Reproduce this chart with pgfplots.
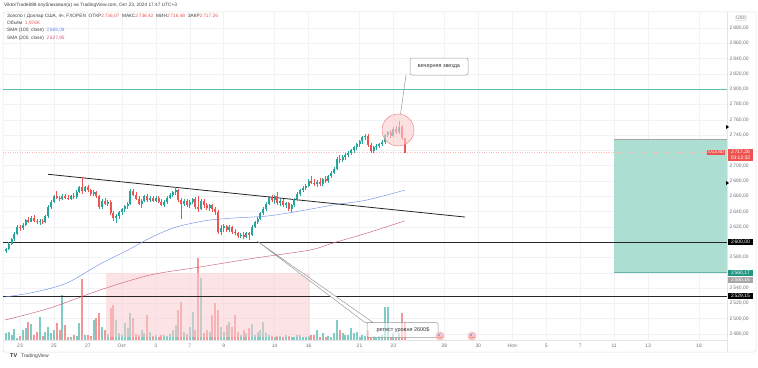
\documentclass[border=0pt]{standalone}
\usepackage{pgfplots}
\pgfplotsset{compat=1.18}
\usepackage{pgfplotstable}
\usepackage{fontspec}
\setmainfont{Liberation Sans}
\definecolor{cup}{RGB}{38,166,154}
\definecolor{cdn}{RGB}{239,83,80}
\definecolor{vup}{RGB}{128,203,195}
\definecolor{vdn}{RGB}{245,150,150}
\definecolor{smaA}{RGB}{110,145,232}
\definecolor{smaB}{RGB}{205,95,120}
\definecolor{gridc}{RGB}{240,242,246}
\definecolor{tgray}{RGB}{110,113,124}
\definecolor{boxg}{RGB}{172,222,210}
\definecolor{boxp}{RGB}{250,205,209}
\definecolor{tealL}{RGB}{95,190,172}
\definecolor{tealD}{RGB}{34,150,130}

\pgfplotstableread{
n o h l c v
-5 2588 2593 2586 2591 7
-4 2591 2600 2590 2598 8
-3 2598 2606 2596 2604 5
-2 2604 2613 2602 2611 11
-1 2611 2622 2609 2620 2
0 2620 2623 2615 2618 4
1 2618 2625 2616 2623 10
2 2623 2631 2621 2629 12
3 2629 2633 2625 2627 18
4 2627 2634 2626 2632 16
5 2632 2635 2626 2628 5
6 2628 2631 2624 2626 8
7 2626 2630 2623 2628 23
8 2628 2630 2624 2626 4
9 2626 2636 2625 2634 8
10 2634 2648 2632 2646 13
11 2646 2655 2644 2653 7
12 2653 2662 2651 2660 10
13 2660 2667 2656 2658 17
14 2658 2661 2654 2657 10
15 2657 2663 2655 2661 45
16 2661 2663 2656 2658 15
17 2658 2662 2655 2657 3
18 2657 2662 2655 2660 3
19 2660 2664 2657 2659 5
20 2659 2668 2657 2666 4
21 2666 2673 2664 2672 17
22 2672 2685 2663 2667 61
23 2667 2674 2665 2672 5
24 2672 2675 2666 2668 5
25 2668 2670 2661 2663 4
26 2663 2668 2660 2665 20
27 2665 2667 2658 2660 22
28 2660 2662 2643 2646 27
29 2646 2656 2644 2654 13
30 2654 2658 2648 2650 10
31 2650 2655 2647 2653 6
32 2653 2655 2636 2638 32
33 2638 2641 2628 2632 35
34 2632 2637 2625 2634 20
35 2634 2641 2631 2639 7
36 2639 2645 2636 2643 5
37 2643 2649 2640 2647 17
38 2647 2652 2643 2650 12
39 2650 2669 2648 2667 27
40 2667 2670 2660 2662 22
41 2662 2665 2655 2657 6
42 2657 2660 2648 2650 5
43 2650 2656 2645 2654 10
44 2654 2662 2652 2660 7
45 2660 2663 2653 2655 25
46 2655 2660 2653 2658 8
47 2658 2661 2652 2654 4
48 2654 2660 2652 2658 5
49 2658 2661 2651 2653 3
50 2653 2656 2647 2649 5
51 2649 2655 2646 2652 5
52 2652 2660 2650 2658 4
53 2658 2664 2656 2662 6
54 2662 2667 2659 2665 10
55 2665 2672 2662 2668 15
56 2668 2670 2652 2655 30
57 2655 2658 2631 2650 38
58 2650 2656 2647 2654 8
59 2654 2657 2646 2648 6
60 2648 2655 2645 2653 13
61 2653 2658 2650 2656 28
62 2656 2659 2644 2646 10
63 2646 2660 2640 2644 82
64 2644 2657 2642 2654 62
65 2654 2656 2645 2648 7
66 2648 2651 2642 2645 10
67 2645 2650 2641 2648 8
68 2648 2650 2640 2643 25
69 2643 2646 2636 2640 37
70 2640 2642 2611 2614 30
71 2614 2622 2610 2619 13
72 2619 2624 2614 2621 8
73 2621 2623 2613 2616 15
74 2616 2622 2614 2620 18
75 2620 2621 2611 2613 13
76 2613 2617 2609 2612 25
77 2612 2614 2606 2608 8
78 2608 2612 2605 2610 5
79 2610 2613 2604 2607 10
80 2607 2614 2605 2612 7
81 2612 2614 2603 2610 12
82 2610 2622 2608 2620 16
83 2620 2628 2618 2626 5
84 2626 2633 2624 2631 8
85 2631 2640 2629 2638 10
86 2638 2646 2635 2644 18
87 2644 2652 2641 2650 7
88 2650 2661 2648 2659 5
89 2659 2662 2652 2655 4
90 2655 2662 2650 2660 3
91 2660 2666 2648 2651 4
92 2651 2656 2647 2654 4
93 2654 2657 2646 2648 3
94 2648 2653 2645 2651 5
95 2651 2653 2641 2644 4
96 2644 2650 2639 2648 3
97 2648 2658 2646 2656 3
98 2656 2665 2654 2663 5
99 2663 2670 2660 2668 5
100 2668 2673 2665 2671 3
101 2671 2676 2668 2674 3
102 2674 2682 2672 2680 4
103 2680 2686 2676 2678 5
104 2678 2682 2673 2676 5
105 2676 2681 2672 2679 10
106 2679 2684 2674 2676 3
107 2676 2684 2673 2682 7
108 2682 2687 2678 2680 3
109 2680 2688 2678 2686 4
110 2686 2693 2684 2691 3
111 2691 2698 2689 2696 7
112 2696 2712 2694 2709 20
113 2709 2714 2704 2707 10
114 2707 2714 2705 2712 7
115 2712 2716 2708 2714 5
116 2714 2719 2711 2717 5
117 2717 2722 2714 2720 12
118 2720 2726 2717 2724 7
119 2724 2730 2721 2728 8
120 2728 2734 2725 2732 3
121 2732 2739 2729 2737 5
122 2737 2741 2733 2739 4
123 2739 2741 2724 2727 10
124 2727 2730 2716 2719 3
125 2719 2726 2717 2724 4
126 2724 2728 2720 2726 3
127 2726 2730 2723 2728 4
128 2728 2733 2726 2731 5
129 2731 2742 2729 2740 33
130 2740 2746 2737 2744 33
131 2744 2747 2736 2739 3
132 2739 2750 2737 2748 7
133 2748 2752 2741 2744 3
134 2744 2758 2742 2750 7
135 2750 2753 2733 2736.07 27
136 2736.07 2736.42 2716.48 2717.26 18
}\candles

\pgfplotstableread{
n p
-5.30 2528.4
5.30 2534.9
16.61 2546.7
28.28 2571.5
38.17 2589.8
45.95 2605.5
54.08 2618.6
61.15 2625.1
67.16 2629.0
75.29 2631.6
87.30 2634.2
98.97 2640.8
110.63 2648.6
122.65 2655.2
136 2668.08
}\smaone

\pgfplotstableread{
n p
-5.30 2498.3
10.60 2514.0
28.28 2537.5
45.95 2557.1
63.62 2567.6
83.06 2579.3
102.5 2589.8
110.63 2599.0
122.65 2612.0
136 2627.95
}\smatwo

\begin{document}
\begin{tikzpicture}[x=1bp,y=1bp]
\useasboundingbox (0,0) rectangle (758,367);
% panel border
\begin{scope}[shift={(0,367)}, y=-1bp]
\draw[gray!25, line width=0.5bp, rounded corners=2bp] (3,12) rectangle (756,352);
\end{scope}
\begin{axis}[at={(3bp,27bp)}, anchor=south west, scale only axis,
  width=724bp, height=327bp,
  xmin=-6.01, xmax=249.9, ymin=2472.2, ymax=2899.6,
  axis line style={draw=none}, major tick length=0pt,
  grid=major, major grid style={draw=gridc, line width=0.5bp},
  xtick={0,12,24,36,48,60,72,90,102,120,132,150,162,174,186,198,210,222,240},
  xticklabels={23,25,27,Окт,3,7,9,14,16,21,23,28,30,Ноя,5,7,11,13,18},
  xticklabel style={font=\fontsize{5}{6}\selectfont, text=tgray, inner sep=0pt, yshift=-3.5bp},
  ytick={2480,2500,...,2880},
  yticklabel pos=right,
  yticklabels={{2\,480,00},{2\,500,00},{2\,520,00},{2\,540,00},{},{2\,580,00},{},{2\,620,00},{2\,640,00},{2\,660,00},{2\,680,00},{2\,700,00},{},{2\,740,00},{2\,760,00},{2\,780,00},{2\,800,00},{2\,820,00},{2\,840,00},{2\,860,00},{2\,880,00}},
  yticklabel style={font=\fontsize{5}{6}\selectfont, text=tgray, inner sep=0pt, anchor=west, xshift=2.5bp},
  clip=true,
]
% volume (up)
\addplot[draw=none, mark=none, forget plot,
  restrict expr to domain={\thisrow{c}-\thisrow{o}}{0:1000},
  error bars/.cd, y dir=plus, y explicit, error mark=none,
  error bar style={draw=vup, line width=2bp, solid}]
  table[x=n, y expr=2472.2, y error plus expr=\thisrow{v}/0.765] {\candles};
% volume (down)
\addplot[draw=none, mark=none, forget plot,
  restrict expr to domain={\thisrow{o}-\thisrow{c}}{0.001:1000},
  error bars/.cd, y dir=plus, y explicit, error mark=none,
  error bar style={draw=vdn, line width=2bp, solid}]
  table[x=n, y expr=2472.2, y error plus expr=\thisrow{v}/0.765] {\candles};
% pink rectangle
\fill[boxp, fill opacity=0.55] (axis cs:30.4,2476) rectangle (axis cs:102.5,2559.6);
% green rectangle
\fill[boxg] (axis cs:210,2560.17) rectangle (axis cs:249.9,2735);
\draw[gray!70, line width=0.6bp] (axis cs:210,2735) -- (axis cs:249.9,2735);
\draw[tealD!70, line width=0.6bp] (axis cs:210,2560.17) -- (axis cs:249.9,2560.17);
% horizontal levels
\draw[tealL, line width=0.7bp] (axis cs:-6.01,2800) -- (axis cs:249.9,2800);
\draw[black!85, line width=0.8bp] (axis cs:-6.01,2600) -- (axis cs:249.9,2600);
\draw[black!85, line width=0.8bp] (axis cs:-6.01,2529.15) -- (axis cs:249.9,2529.15);
\draw[cdn!40, line width=0.4bp, dotted] (axis cs:-6.01,2717.26) -- (axis cs:249.9,2717.26);
% SMAs
\addplot[smaA, line width=0.45bp, smooth, mark=none] table[x=n, y=p] {\smaone};
\addplot[smaB, line width=0.45bp, smooth, mark=none] table[x=n, y=p] {\smatwo};
% trend line
\draw[black!85, line width=0.8bp] (axis cs:9.90,2688.8) -- (axis cs:157.3,2632.9);
% candles: wicks
\addplot[draw=none, mark=none, forget plot,
  restrict expr to domain={\thisrow{c}-\thisrow{o}}{0:1000},
  error bars/.cd, y dir=plus, y explicit, error mark=none,
  error bar style={draw=cup, line width=0.6bp, solid}]
  table[x=n, y=l, y error plus expr=\thisrow{h}-\thisrow{l}] {\candles};
\addplot[draw=none, mark=none, forget plot,
  restrict expr to domain={\thisrow{o}-\thisrow{c}}{0.001:1000},
  error bars/.cd, y dir=plus, y explicit, error mark=none,
  error bar style={draw=cdn, line width=0.6bp, solid}]
  table[x=n, y=l, y error plus expr=\thisrow{h}-\thisrow{l}] {\candles};
% candles: bodies
\addplot[draw=none, mark=none, forget plot,
  restrict expr to domain={\thisrow{c}-\thisrow{o}}{0:1000},
  error bars/.cd, y dir=plus, y explicit, error mark=none,
  error bar style={draw=cup, line width=2bp, solid}]
  table[x=n, y=o, y error plus expr=\thisrow{c}-\thisrow{o}] {\candles};
\addplot[draw=none, mark=none, forget plot,
  restrict expr to domain={\thisrow{o}-\thisrow{c}}{0.001:1000},
  error bars/.cd, y dir=plus, y explicit, error mark=none,
  error bar style={draw=cdn, line width=2bp, solid}]
  table[x=n, y=c, y error plus expr=\thisrow{o}-\thisrow{c}] {\candles};
\end{axis}

\begin{scope}[shift={(0,367)}, y=-1bp]
% separators
\draw[gray!20, line width=0.5bp] (3,340) -- (727,340);
\draw[gray!20, line width=0.5bp] (727,12) -- (727,352);
% circle
\draw[cdn!70, line width=0.5bp, fill=boxp, fill opacity=0.6] (398,130) circle (16);
% callout 1
\draw[gray!80, line width=0.5bp] (406,75) -- (400.5,114);
\draw[gray!80, line width=0.5bp, fill=white, rounded corners=2bp] (410,58) rectangle (468,75);
\node[font=\fontsize{5.5}{6}\selectfont, text=black!80] at (439,66.5) {вечерняя звезда};
% callout 2
\draw[gray!80, line width=0.5bp, fill=white] (257,241) -- (365,322.5) -- (373,322.5) -- cycle;
\draw[gray!80, line width=0.5bp, fill=white, fill opacity=0.6, rounded corners=2bp] (367,322.5) rectangle (438,337.5);
\node[font=\fontsize{5.5}{6}\selectfont, text=black!80] at (403,330) {ретест уровня 2600\$};
% event flags
\foreach \fx in {440,472} {
  \fill[cdn!35] (\fx,336) circle (4.5);
  \fill[smaA!80] (\fx-2.5,333.5) rectangle (\fx,336);
  \draw[cdn!60, line width=0.3bp] (\fx-3,337.5) -- (\fx+3,337.5);
}
% header
\node[anchor=west, font=\fontsize{4.8}{5}\selectfont, text=black!75, inner sep=0pt] at (4,5)
  {ViktorTrade888 опубликовал(а) на TradingView.com, Окт 23, 2024 17:47 UTC+3};
\node[anchor=west, font=\fontsize{4.8}{5}\selectfont, text=black!75, inner sep=0pt] at (7,16)
  {Золото / Доллар США, 4ч, FXOPEN\ \ ОТКР\textcolor{cdn}{2\,736,07}\ \ МАКС\textcolor{cdn}{2\,736,42}\ \ МИН\textcolor{cdn}{2\,716,48}\ \ ЗАКР\textcolor{cdn}{2\,717,26}};
\node[anchor=west, font=\fontsize{4.8}{5}\selectfont, text=black!75, inner sep=0pt] at (7,23)
  {Объём\ \ \textcolor{cdn}{1,976K}};
\node[anchor=west, font=\fontsize{4.8}{5}\selectfont, text=black!75, inner sep=0pt] at (7,30.5)
  {SMA (100, close)\ \ \textcolor{smaA}{2\,668,08}};
\node[anchor=west, font=\fontsize{4.8}{5}\selectfont, text=black!75, inner sep=0pt] at (7,38)
  {SMA (200, close)\ \ \textcolor{smaB}{2\,627,95}};
% price axis tags
\node[draw=gray!30, font=\fontsize{4.5}{5}\selectfont, text=tgray, inner sep=1bp, rounded corners=1bp] at (741,18) {USD};
\fill (726,125) -- (729,127) -- (726,129) -- cycle;
\fill (726,181) -- (729,183) -- (726,185) -- cycle;
\node[fill=cdn, text=white, font=\fontsize{4}{4.5}\selectfont, inner sep=1bp, anchor=east] at (725.5,152.5) {XAUUSD};
\node[fill=cdn, text=white, font=\fontsize{5}{5.6}\selectfont, inner sep=1bp, align=center, minimum width=25bp] at (740.5,155) {2\,717,26\\03:12:32};
\node[fill=black, text=white, font=\fontsize{5}{6}\selectfont, inner sep=1bp, minimum width=25bp] at (740.5,242.2) {2\,600,00};
\node[fill=tealD, text=white, font=\fontsize{5}{6}\selectfont, inner sep=1bp, minimum width=25bp] at (740.5,273.2) {2\,560,17};
\node[fill=gray!70, text=white, font=\fontsize{5}{6}\selectfont, inner sep=1bp, minimum width=25bp] at (740.5,280.2) {2\,560,16};
\node[fill=black, text=white, font=\fontsize{5}{6}\selectfont, inner sep=1bp, minimum width=25bp] at (740.5,296.4) {2\,529,15};
% logo
\node[anchor=west, font=\fontsize{5.5}{6}\selectfont\bfseries, text=black!85, inner sep=0pt] at (10,356) {TV};
\node[anchor=west, font=\fontsize{5}{6}\selectfont, text=black!75, inner sep=0pt] at (21,356) {TradingView};
\end{scope}
\end{tikzpicture}
\end{document}
